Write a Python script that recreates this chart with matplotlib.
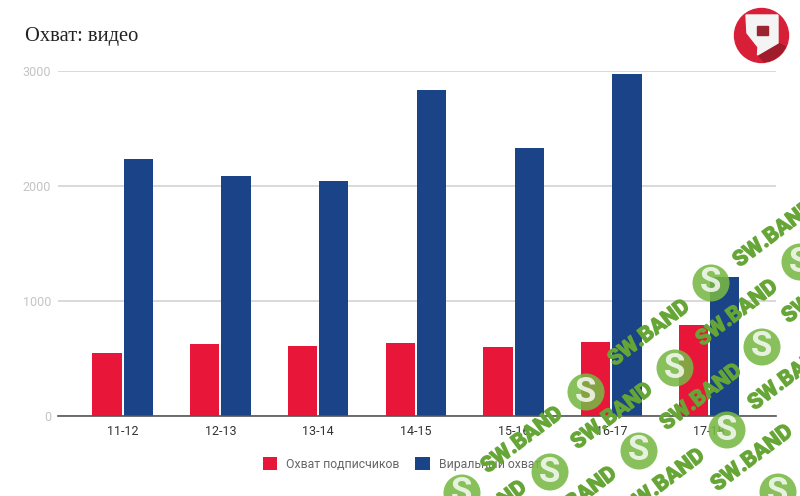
import numpy as np
import matplotlib
matplotlib.use("Agg")
import matplotlib.pyplot as plt
import matplotlib.patheffects as pe
from matplotlib.patches import Circle, Polygon

categories = ["11-12", "12-13", "13-14", "14-15", "15-16", "16-17", "17-18"]
subscribers = [548, 626, 609, 635, 600, 643, 791]
viral = [2235, 2087, 2043, 2835, 2330, 2974, 1209]
yticks = [0, 1000, 2000, 3000]
title = "Охват: видео"
series_names = ["Охват подписчиков", "Виральный охват"]

RED = "#e8173a"
BLUE = "#1a4388"

plt.rcParams["font.family"] = ["Roboto", "DejaVu Sans"]
W, H = 800, 496
fig = plt.figure(figsize=(W / 100, H / 100), dpi=100, facecolor="white")
ax = fig.add_axes([58 / W, 1 - 416 / H, 718 / W, 345 / H])

x = np.arange(len(categories))
bw = 0.30
ax.bar(x - 0.16, subscribers, bw, color=RED, label=series_names[0], zorder=3)
ax.bar(x + 0.16, viral, bw, color=BLUE, label=series_names[1], zorder=3)

ax.set_xlim(-0.663, 6.686)
ax.set_ylim(0, 3000)
ax.set_yticks(yticks)
ax.set_xticks(x, categories)
ax.grid(axis="y", color="#d0d0d0", lw=1.1, zorder=0)
ax.grid(axis="x", visible=False)
for s in ["top", "left", "right"]:
    ax.spines[s].set_visible(False)
ax.spines["bottom"].set_color("#555555")
ax.spines["bottom"].set_linewidth(1.2)
ax.spines["bottom"].set_zorder(4)
ax.tick_params(axis="x", length=0, labelsize=9, labelcolor="#333333", pad=6.5)
ax.tick_params(axis="y", length=0, labelsize=9, labelcolor="#c4c4c4", pad=5)

ax.legend(loc="center", bbox_to_anchor=((401.5 - 58) / 718, (416 - 464) / 345), ncol=2,
          frameon=False, fontsize=8.8, labelcolor="#666666", handlelength=1.2,
          handleheight=1.2, handletextpad=0.75, columnspacing=1.25)

fig.text(25 / W, 1 - 37 / H, title, family=["Liberation Serif"], fontsize=14.8,
         color="#222222", va="center", ha="left")

# overlay in pixel coordinates: logo and watermark stamped over the chart
ov = fig.add_axes([0, 0, 1, 1], facecolor="none", zorder=10)
ov.set_xlim(0, W)
ov.set_ylim(H, 0)
ov.axis("off")
disc = Circle((761.5, 35.5), 27, color="#d81f38")
ov.add_patch(disc)
shadow = Polygon([[758, 55], [778, 43], [792, 50], [770, 68]], color="#a01c2a")
ov.add_patch(shadow)
shadow.set_clip_path(disc)
flag = Polygon([[746, 15], [778, 15], [778, 43], [757.5, 55], [758, 47], [747, 33]],
               color="#f4f4f4")
ov.add_patch(flag)
flag.set_clip_path(disc)
ov.add_patch(Polygon([[757, 26], [768, 26], [768, 35], [757, 35]], color="#9a2530"))

wm_text = "SW.BAND"
wm_text_at = [(774, 234), (737, 313), (649, 333), (701, 397), (612, 416), (522, 440),
              (752, 458), (664, 482), (576, 500), (789, 377), (823, 290), (486, 514)]
wm_logo_at = [(711, 283), (800, 262), (762, 347), (675, 368), (586, 392), (727, 430),
              (639, 451), (550, 472), (778, 492), (462, 493)]
for px, py in wm_text_at:
    ov.text(px, py, wm_text, rotation=37, rotation_mode="anchor", ha="center", va="center",
            fontsize=15.5, fontweight="bold", family="Roboto", color="#66a636",
            alpha=0.95, clip_on=True,
            path_effects=[pe.withStroke(linewidth=1.0, foreground="#66a636")])
for px, py in wm_logo_at:
    ov.add_patch(Circle((px, py), 18.5, color="#78b845", alpha=0.88, lw=0, clip_on=True))
    ov.text(px, py, "S", ha="center", va="center", fontsize=25, fontweight="bold",
            family="Roboto", color="white", alpha=0.8, clip_on=True)

fig.savefig("out.png", dpi=100)
